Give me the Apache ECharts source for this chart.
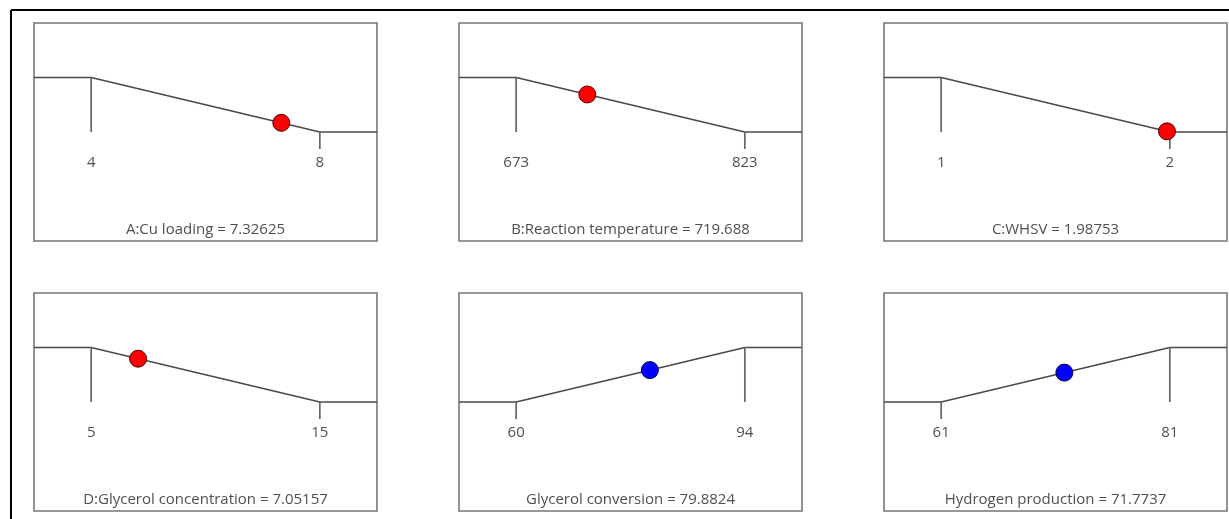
<!DOCTYPE html>
<html>
<head>
<meta charset="utf-8">
<script src="https://cdn.jsdelivr.net/npm/echarts@6/dist/echarts.min.js"></script>
<style>html,body{margin:0;padding:0;background:#fff;}#main{width:1229px;height:519px;}</style>
</head>
<body>
<div id="main"></div>
<script>
const factorNames = ['A:Cu loading', 'B:Reaction temperature', 'C:WHSV', 'D:Glycerol concentration', 'Glycerol conversion', 'Hydrogen production'];
const lowValues = [4, 673, 1, 5, 60, 61];
const highValues = [8, 823, 2, 15, 94, 81];
const currentValues = [7.32625, 719.688, 1.98753, 7.05157, 79.8824, 71.7737];
const goals = ['min', 'min', 'min', 'min', 'max', 'max'];
const desirability = [0.168, 0.689, 0.012, 0.795, 0.585, 0.539];
const pointColors = ['#ff0000', '#ff0000', '#ff0000', '#ff0000', '#0000ff', '#0000ff'];

const chart = echarts.init(document.getElementById('main'));
const colLeft = [34, 459, 884];
const rowTop = [23, 293];
const gw = 343, gh = 218;
const lineColor = '#4a4a4a';
const font = '"Open Sans", "Noto Sans", sans-serif';

const grids = [], xAxes = [], yAxes = [], series = [];
factorNames.forEach((name, i) => {
  const lo = lowValues[i], hi = highValues[i], r = hi - lo;
  const mn = lo - 0.25 * r, mx = hi + 0.25 * r;
  grids.push({left: colLeft[i % 3], top: rowTop[Math.floor(i / 3)], width: gw, height: gh,
    show: true, borderColor: '#777', borderWidth: 1.6, backgroundColor: 'transparent'});
  xAxes.push({type: 'value', gridIndex: i, min: mn, max: mx, show: false});
  yAxes.push({type: 'value', gridIndex: i, min: -2, max: 2, show: false});
  const dec = goals[i] === 'min';
  const ramp = dec ? [[mn, 1], [lo, 1], [hi, 0], [mx, 0]] : [[mn, 0], [lo, 0], [hi, 1], [mx, 1]];
  const common = {xAxisIndex: i, yAxisIndex: i, silent: true, animation: false};
  series.push(Object.assign({type: 'line', data: ramp, symbol: 'none',
    lineStyle: {color: lineColor, width: 1.7}}, common));
  const tLo = dec ? [[lo, 1], [lo, 0]] : [[lo, 0], [lo, -0.31]];
  const tHi = dec ? [[hi, 0], [hi, -0.31]] : [[hi, 1], [hi, 0]];
  [tLo, tHi].forEach(t => series.push(Object.assign({type: 'line', data: t, symbol: 'none',
    lineStyle: {color: '#666', width: 1.7}}, common)));
  series.push(Object.assign({type: 'scatter', symbolSize: 1, itemStyle: {color: 'transparent'},
    data: [[lo, -0.56, String(lo)], [hi, -0.56, String(hi)], [(mn + mx) / 2, -1.79, name + ' = ' + currentValues[i]]],
    label: {show: true, position: 'inside', formatter: p => p.data[2], color: '#222',
      fontSize: 15, fontFamily: font}}, common));
  series.push(Object.assign({type: 'scatter', symbol: 'circle', symbolSize: 17,
    data: [[currentValues[i], desirability[i]]], z: 5,
    itemStyle: {color: pointColors[i], opacity: 1, borderColor: dec ? '#4a0000' : '#00004a', borderWidth: 1}}, common));
});

chart.setOption({
  animation: false,
  grid: grids, xAxis: xAxes, yAxis: yAxes, series: series,
  graphic: [
    {type: 'line', shape: {x1: 11, y1: 10, x2: 1229, y2: 10}, style: {stroke: '#000', lineWidth: 2}},
    {type: 'line', shape: {x1: 11, y1: 10, x2: 11, y2: 519}, style: {stroke: '#000', lineWidth: 2}}
  ]
});
</script>
</body>
</html>
